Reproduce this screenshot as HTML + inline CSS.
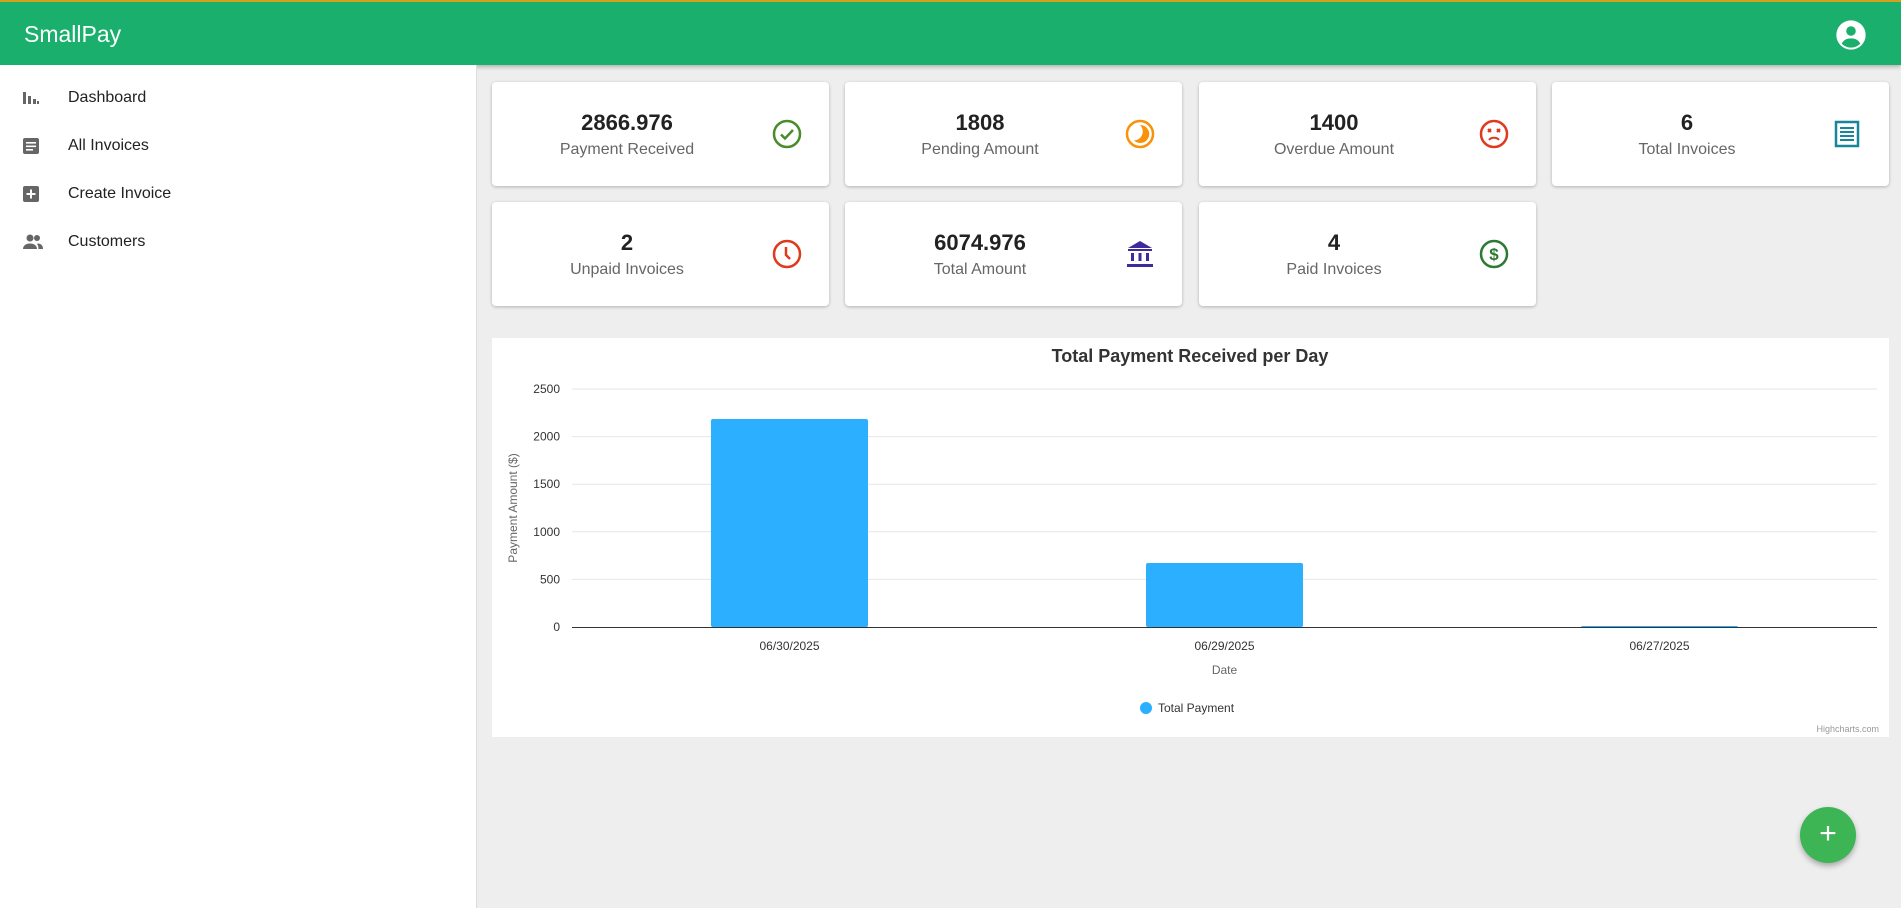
<!DOCTYPE html>
<html><head><meta charset="utf-8"><style>
*{box-sizing:border-box;margin:0;padding:0}
body{width:1901px;height:908px;background:#eeeeee;font-family:"Liberation Sans",sans-serif;position:relative;overflow:hidden}
.hdr{position:absolute;left:0;top:0;width:1901px;height:65px;background:#1aaf6c;border-top:2px solid #d4a020;box-shadow:0 2px 4px rgba(0,0,0,.25)}
.hdr .t{position:absolute;left:24px;top:19px;color:#fff;font-size:23px}
.side{position:absolute;left:0;top:65px;width:477px;height:843px;background:#fff;border-right:1px solid #ddd}
.nav{position:absolute;left:0;height:30px;width:476px;font-size:16px;color:#222}
.nav span{position:absolute;left:68px;top:7px}
.nav svg{position:absolute;left:21px;top:6px}
.card{position:absolute;width:337px;height:104px;background:#fff;border-radius:4px;box-shadow:0 1px 3px rgba(0,0,0,.25)}
.card .v{position:absolute;left:0;width:270px;top:28px;text-align:center;font-weight:bold;font-size:22px;color:#222}
.card .l{position:absolute;left:0;width:270px;top:59px;text-align:center;font-size:16px;color:#666}
.card svg{position:absolute;left:280px;top:37px}
.chart{position:absolute;left:492px;top:338px;width:1397px;height:399px;background:#fff}
.fab{position:absolute;left:1800px;top:807px;width:56px;height:56px;border-radius:50%;background:#3db555;box-shadow:0 3px 6px rgba(0,0,0,.3);color:#fff;font-size:30px;text-align:center;line-height:54px}
</style></head><body>
<div class="hdr">
<div class="t">SmallPay</div>
<svg style="position:absolute;left:1835px;top:17px" width="32" height="32" viewBox="0 0 24 24"><circle cx="12" cy="12" r="11" fill="#fff"/><circle cx="12" cy="9" r="3.6" fill="#1aaf6c"/><path d="M5 18.5c1.5-3 4-4 7-4s5.5 1 7 4c-2 2-4.3 3-7 3s-5-1-7-3z" fill="#1aaf6c"/></svg>
</div>
<div class="side">
<div class="nav" style="top:17px"><svg width="20" height="20" viewBox="0 0 20 20"><rect x="2" y="4" width="3" height="12" fill="#666"/><rect x="7" y="8" width="3" height="8" fill="#666"/><rect x="12" y="11" width="3" height="5" fill="#666"/><rect x="16" y="13" width="2" height="3" fill="#666"/></svg><span>Dashboard</span></div>
<div class="nav" style="top:65px"><svg width="20" height="20" viewBox="0 0 20 20"><rect x="2" y="2" width="16" height="16" rx="2" fill="#666"/><rect x="5" y="6" width="10" height="1.6" fill="#fff"/><rect x="5" y="9.5" width="10" height="1.6" fill="#fff"/><rect x="5" y="13" width="7" height="1.6" fill="#fff"/></svg><span>All Invoices</span></div>
<div class="nav" style="top:113px"><svg width="20" height="20" viewBox="0 0 20 20"><rect x="2" y="2" width="16" height="16" rx="2" fill="#666"/><rect x="9" y="5.5" width="2" height="9" fill="#fff"/><rect x="5.5" y="9" width="9" height="2" fill="#fff"/></svg><span>Create Invoice</span></div>
<div class="nav" style="top:161px"><svg width="24" height="20" viewBox="0 0 24 20"><circle cx="9" cy="6" r="3.5" fill="#666"/><circle cx="16" cy="6" r="3" fill="#666"/><path d="M2 17c0-4 4-5.5 7-5.5s7 1.5 7 5.5z" fill="#666"/><path d="M17 11.5c3 .3 5 1.8 5 5.5h-4.5c0-2.5-.5-4-1.5-5z" fill="#666"/></svg><span>Customers</span></div>
</div>

<div class="card" style="left:492px;top:82px"><div class="v">2866.976</div><div class="l">Payment Received</div><svg width="30" height="30" viewBox="0 0 30 30"><circle cx="15" cy="15" r="13" fill="none" stroke="#4a8b2c" stroke-width="2.5"/><path d="M9 15.5l4 4 8-8.5" fill="none" stroke="#4a8b2c" stroke-width="2.5"/></svg></div>
<div class="card" style="left:845px;top:82px"><div class="v">1808</div><div class="l">Pending Amount</div><svg width="30" height="30" viewBox="0 0 30 30"><circle cx="15" cy="15" r="13" fill="none" stroke="#f7920a" stroke-width="2.5"/><path d="M15 6a9 9 0 1 1-6 15.5 9 9 0 0 0 6-15.5z" fill="#f7920a"/></svg></div>
<div class="card" style="left:1199px;top:82px"><div class="v">1400</div><div class="l">Overdue Amount</div><svg width="30" height="30" viewBox="0 0 30 30"><circle cx="15" cy="15" r="13" fill="none" stroke="#e03a1e" stroke-width="2.5"/><path d="M9 10l3 3M12 10l-3 3M18 10l3 3M21 10l-3 3" stroke="#e03a1e" stroke-width="2"/><path d="M10 21c2-3 8-3 10 0" fill="none" stroke="#e03a1e" stroke-width="2"/></svg></div>
<div class="card" style="left:1552px;top:82px"><div class="v">6</div><div class="l">Total Invoices</div><svg width="30" height="30" viewBox="0 0 30 30"><rect x="4" y="3" width="22" height="24" fill="none" stroke="#17859b" stroke-width="2.5"/><path d="M8 9h14M8 13h14M8 17h14M8 21h14" stroke="#17859b" stroke-width="2"/></svg></div>
<div class="card" style="left:492px;top:202px"><div class="v">2</div><div class="l">Unpaid Invoices</div><svg width="30" height="30" viewBox="0 0 30 30"><circle cx="15" cy="15" r="13" fill="none" stroke="#e03a1e" stroke-width="2.5"/><path d="M14 8v8l4 4" fill="none" stroke="#e03a1e" stroke-width="2.5"/></svg></div>
<div class="card" style="left:845px;top:202px"><div class="v">6074.976</div><div class="l">Total Amount</div><svg width="30" height="30" viewBox="0 0 30 30"><path d="M15 2L3 9h24z" fill="#3e2a9b"/><rect x="3" y="10" width="24" height="2" fill="#3e2a9b"/><rect x="6" y="14" width="3" height="8" fill="#3e2a9b"/><rect x="13.5" y="14" width="3" height="8" fill="#3e2a9b"/><rect x="21" y="14" width="3" height="8" fill="#3e2a9b"/><rect x="2" y="25" width="26" height="3" fill="#3e2a9b"/></svg></div>
<div class="card" style="left:1199px;top:202px"><div class="v">4</div><div class="l">Paid Invoices</div><svg width="30" height="30" viewBox="0 0 30 30"><circle cx="15" cy="15" r="13" fill="none" stroke="#2c7a34" stroke-width="2.5"/><text x="15" y="21" text-anchor="middle" font-family="Liberation Sans" font-weight="bold" font-size="17" fill="#2c7a34">$</text></svg></div>

<div class="chart">
<svg id="cs" width="1397" height="399" style="font-family:'Liberation Sans',sans-serif"></svg>
</div>
<div class="fab">+</div>
<script>
const categories=["06/30/2025","06/29/2025","06/27/2025"];
const paymentValues=[2185,672,10];
const yTicks=[0,500,1000,1500,2000,2500];
const NS="http://www.w3.org/2000/svg";
const svg=document.getElementById('cs');
const L=80,R=1385,T=51,B=289,yMax=2500;
const y=v=>B-(v/yMax)*(B-T);
const cw=(R-L)/categories.length;
const x=i=>L+cw*(i+0.5);
function mk(t,a,txt){const e=document.createElementNS(NS,t);for(const k in a)e.setAttribute(k,a[k]);if(txt!==undefined)e.textContent=txt;svg.appendChild(e);return e;}
let e=mk('text',{x:698,y:24,'text-anchor':'middle','font-size':18,'font-weight':'bold',fill:'#333'},'Total Payment Received per Day');


yTicks.forEach(v=>{
 if(v>0){const g=mk('line',{x1:L,x2:R,y1:y(v),y2:y(v),stroke:'#e6e6e6'});
 
 }
 const t=mk('text',{x:L-12,y:y(v)+4,'text-anchor':'end','font-size':12,fill:'#333'},v);
 
 
});
categories.forEach((c,i)=>{
 const bw=157;
 const r=mk('rect',{x:x(i)-bw/2,y:y(paymentValues[i]),width:bw,height:B-y(paymentValues[i]),fill:'#2caffe',rx:2});
 
 
 const t=mk('text',{x:x(i),y:B+23,'text-anchor':'middle','font-size':12,fill:'#333'},c);
 
 
});
e=mk('line',{x1:L,x2:R,y1:B+.5,y2:B+.5,stroke:'#333','stroke-width':1});


e=mk('text',{x:(L+R)/2,y:B+47,'text-anchor':'middle','font-size':12,fill:'#666'},'Date');


e=mk('text',{x:0,y:0,'text-anchor':'middle','font-size':12,fill:'#666',transform:'translate(25,'+((T+B)/2)+') rotate(-90)'},'Payment Amount ($)');


e=mk('circle',{cx:654,cy:370,r:6,fill:'#2caffe'});


e=mk('text',{x:666,y:374,'font-size':12,fill:'#333'},'Total Payment');


e=mk('text',{x:1387,y:394,'text-anchor':'end','font-size':9,fill:'#999'},'Highcharts.com');


</script>
</body></html>
